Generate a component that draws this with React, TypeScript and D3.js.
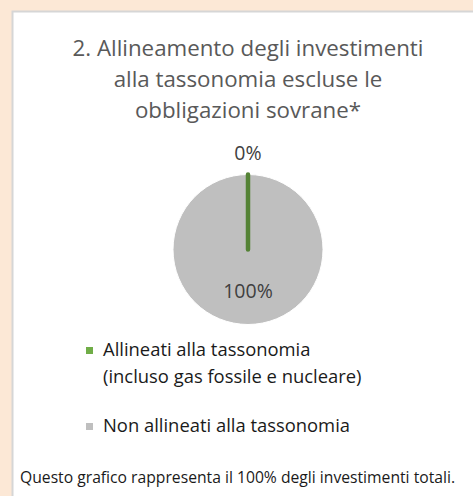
import React from "react";
import * as d3 from "d3";

const categories = [
  "Allineati alla tassonomia (incluso gas fossile e nucleare)",
  "Non allineati alla tassonomia",
];
const legendLines = [
  ["Allineati alla tassonomia", "(incluso gas fossile e nucleare)"],
  ["Non allineati alla tassonomia"],
];
const values = [0, 100];
const valueLabels = ["0%", "100%"];
const titleLines = [
  "2. Allineamento degli investimenti",
  "alla tassonomia escluse le",
  "obbligazioni sovrane*",
];
const footnote = "Questo grafico rappresenta il 100% degli investimenti totali.";

const W = 473;
const H = 496;
const FONT = "'Open Sans', sans-serif";

export default function App() {
  const cx = 248;
  const cy = 249.5;
  const r = 75;
  const color = d3
    .scaleOrdinal<string, string>()
    .domain(categories)
    .range(["#70AD47", "#BFBFBF"]);
  const strokeColor = d3
    .scaleOrdinal<string, string>()
    .domain(categories)
    .range(["#548235", "#FFFFFF"]);
  const strokeW = d3.scaleOrdinal<string, number>().domain(categories).range([4.5, 1]);

  const pie = d3
    .pie<number>()
    .sort(null)
    .value((d) => d);
  const arcs = pie(values);
  const arc = d3.arc<d3.PieArcDatum<number>>().innerRadius(0).outerRadius(r);
  const outerLabelArc = d3.arc<d3.PieArcDatum<number>>().innerRadius(r + 21).outerRadius(r + 21);
  const innerLabelArc = d3.arc<d3.PieArcDatum<number>>().innerRadius(r * 0.57).outerRadius(r * 0.57);

  const order = arcs.map((a, i) => i).sort((a, b) => values[b] - values[a]);

  const legendY = [356, 432];

  return (
    <div style={{ position: "fixed", left: 0, top: 0 }}>
      <svg width={W} height={H} style={{ display: "block" }}>
        <rect x={0} y={0} width={W} height={H} fill="#FCE8D6" />
        <rect x={12.5} y={11.5} width={W} height={H} fill="#FFFFFF" stroke="#D6D6D6" strokeWidth={2} />
        <g fontFamily={FONT} fill="#595959" fontSize={22.3} textAnchor="middle">
          {titleLines.map((t, i) => (
            <text key={i} x={248} y={56 + i * 31}>
              {t}
            </text>
          ))}
        </g>
        <g transform={`translate(${cx},${cy})`}>
          {order.map((i) => (
            <path
              key={i}
              d={arc(arcs[i]) || ""}
              fill={color(categories[i])}
              stroke={strokeColor(categories[i])}
              strokeWidth={strokeW(categories[i])}
              strokeLinejoin="round"
            />
          ))}
          {arcs.map((a, i) => {
            const small = a.endAngle - a.startAngle < 0.3;
            const [lx, ly] = small ? outerLabelArc.centroid(a) : innerLabelArc.centroid(a);
            return (
              <text
                key={i}
                x={lx}
                y={ly + 6}
                textAnchor="middle"
                fontFamily={FONT}
                fontSize={19.5}
                fill="#404040"
              >
                {valueLabels[i]}
              </text>
            );
          })}
        </g>
        <g fontFamily={FONT} fontSize={18.4} fill="#1A1A1A">
          {legendLines.map((lines, i) => (
            <g key={i}>
              <rect x={86} y={legendY[i] - 9} width={7} height={7} fill={color(categories[i])} />
              {lines.map((l, j) => (
                <text key={j} x={103} y={legendY[i] + j * 27}>
                  {l}
                </text>
              ))}
            </g>
          ))}
        </g>
        <text x={20} y={483} fontFamily={FONT} fontSize={15.7} fill="#1A1A1A">
          {footnote}
        </text>
      </svg>
    </div>
  );
}
